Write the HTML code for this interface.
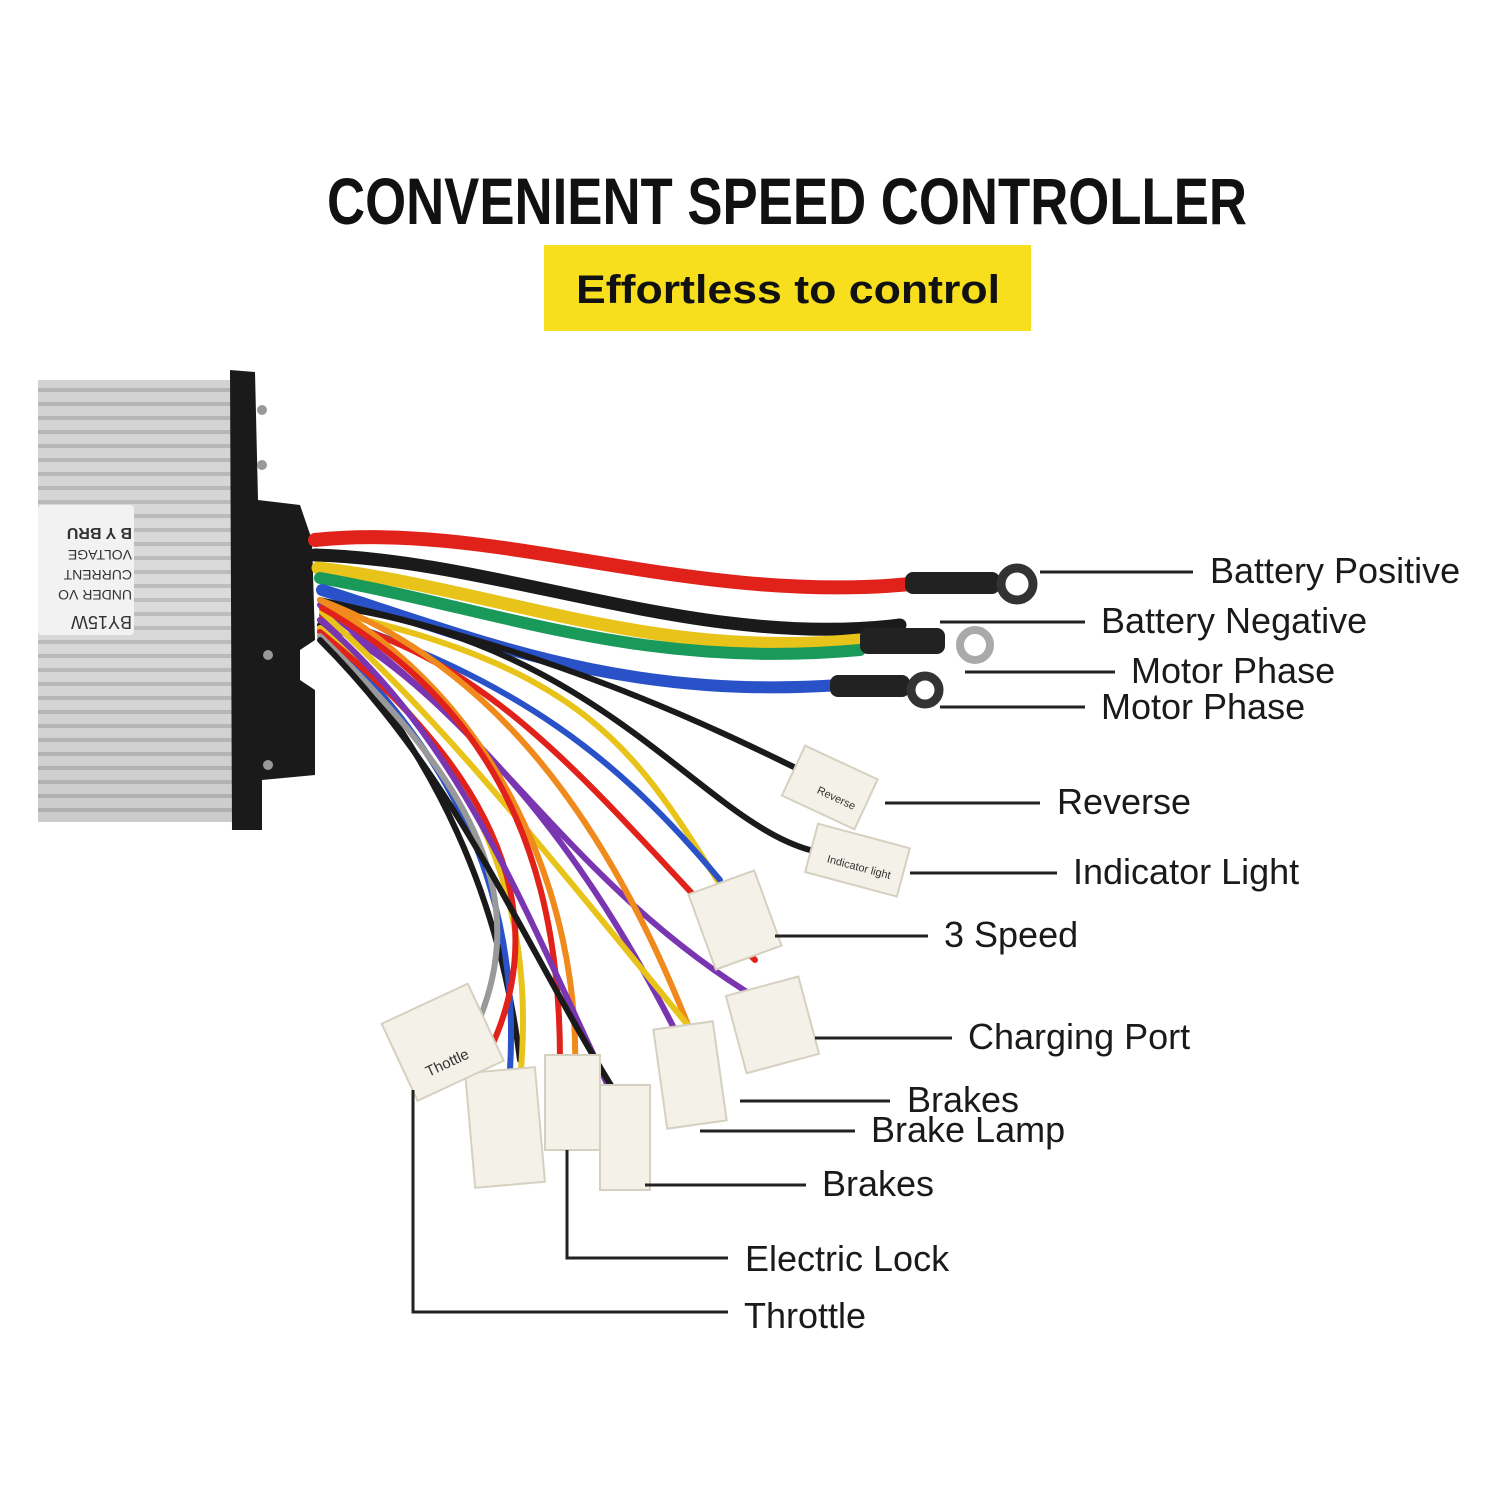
<!DOCTYPE html>
<html><head><meta charset="utf-8"><style>
html,body{margin:0;padding:0;background:#fff;}
svg{display:block;}
text{font-family:"Liberation Sans","Noto Sans CJK SC",sans-serif;}
</style></head><body>
<svg width="1500" height="1500" viewBox="0 0 1500 1500" xmlns="http://www.w3.org/2000/svg">
<defs>
<linearGradient id="alu" x1="0" y1="0" x2="0" y2="1">
<stop offset="0" stop-color="#c9c9c9"/><stop offset="0.5" stop-color="#e4e4e4"/><stop offset="1" stop-color="#b9b9b9"/>
</linearGradient>
<pattern id="fins" width="10" height="14" patternUnits="userSpaceOnUse">
<rect width="10" height="14" fill="#d6d6d6"/><rect y="10" width="10" height="4" fill="#a9a9a9"/>
</pattern>
</defs>
<rect width="1500" height="1500" fill="#fff"/>
<text x="787" y="224" text-anchor="middle" font-size="66" font-weight="bold" textLength="920" lengthAdjust="spacingAndGlyphs" fill="#111">CONVENIENT SPEED CONTROLLER</text>
<rect x="544" y="245" width="487" height="86" fill="#f7df1e"/>
<text x="788" y="303" text-anchor="middle" font-size="40" font-weight="bold" textLength="424" lengthAdjust="spacingAndGlyphs" fill="#111">Effortless to control</text>

<rect x="38" y="380" width="200" height="442" fill="url(#fins)"/>
<rect x="38" y="380" width="200" height="442" fill="url(#alu)" opacity="0.35"/>
<rect x="38" y="505" width="96" height="130" rx="4" fill="#f2f2f2"/>
<g transform="translate(86,570) rotate(180)" font-size="14" fill="#333">
<text x="-46" y="-46" font-size="18">BY15W</text>
<text x="-46" y="-20">UNDER VO</text>
<text x="-46" y="0">CURRENT</text>
<text x="-46" y="20">VOLTAGE</text>
<text x="-46" y="42" font-size="16" font-weight="bold">B Y BRU</text>
</g>
<path d="M230 370 L255 372 L258 500 L300 505 L312 540 L315 640 L300 650 L300 680 L315 690 L315 775 L262 780 L262 830 L232 830 Z" fill="#1a1a1a"/>
<circle cx="262" cy="410" r="5" fill="#999"/><circle cx="262" cy="465" r="5" fill="#999"/>
<circle cx="268" cy="655" r="5" fill="#999"/><circle cx="268" cy="765" r="5" fill="#999"/>

<g fill="none" stroke-linecap="round">
<path d="M315 540 C500 520 700 610 930 582" stroke="#e0221b" stroke-width="14"/>
<path d="M315 555 C500 560 700 650 900 625" stroke="#1a1a1a" stroke-width="13"/>
<path d="M318 568 C500 590 650 660 860 640" stroke="#e8c41a" stroke-width="13"/>
<path d="M320 578 C500 610 640 670 860 650" stroke="#1a9a5a" stroke-width="12"/>
<path d="M322 590 C480 640 620 700 840 685" stroke="#2a52c8" stroke-width="12"/>
</g>
<g fill="none" stroke-width="6" stroke-linecap="round">
<path d="M320 600 C550 650 700 720 820 780" stroke="#1a1a1a"/>
<path d="M322 605 C600 640 700 820 810 850" stroke="#1a1a1a"/>
<path d="M322 610 C600 670 640 760 730 900" stroke="#e8c41a"/>
<path d="M322 615 C520 680 620 760 720 880" stroke="#2a52c8"/>
<path d="M322 618 C500 660 600 800 755 960" stroke="#e0221b"/>
<path d="M320 620 C480 700 560 880 760 1000" stroke="#7a36b0"/>
<path d="M320 600 C480 660 600 800 690 1030" stroke="#f08a1c"/>
<path d="M320 605 C440 700 560 800 680 1040" stroke="#7a36b0"/>
<path d="M322 612 C440 720 520 820 700 1040" stroke="#e8c41a"/>
<path d="M320 625 C440 760 500 900 520 1060" stroke="#1a1a1a"/>
<path d="M320 630 C460 760 520 900 510 1070" stroke="#2a52c8"/>
<path d="M320 628 C460 740 540 880 520 1080" stroke="#e8c41a"/>
<path d="M320 632 C480 760 560 900 490 1050" stroke="#e0221b"/>
<path d="M320 636 C470 780 540 900 470 1040" stroke="#999"/>
<path d="M320 600 C500 700 580 900 575 1070" stroke="#f08a1c"/>
<path d="M322 608 C520 720 560 900 560 1060" stroke="#e0221b"/>
<path d="M320 620 C460 740 520 900 610 1090" stroke="#7a36b0"/>
<path d="M320 640 C460 780 520 940 620 1100" stroke="#1a1a1a"/>
</g>
<g fill="#222">
<rect x="905" y="572" width="95" height="22" rx="8"/>
<rect x="860" y="628" width="85" height="26" rx="8"/>
<rect x="830" y="675" width="80" height="22" rx="8"/>
</g>
<g fill="none" stroke="#333" stroke-width="9">
<circle cx="1017" cy="584" r="16"/>
<circle cx="925" cy="690" r="14"/>
</g>
<circle cx="975" cy="645" r="15" fill="none" stroke="#aaa" stroke-width="8"/>
<g fill="#f4f1e8" stroke="#d5d0c0" stroke-width="2">
<rect x="790" y="760" width="80" height="55" transform="rotate(25 830 787)"/>
<rect x="810" y="835" width="95" height="50" transform="rotate(15 857 860)"/>
<rect x="700" y="880" width="70" height="80" transform="rotate(-20 735 920)"/>
<rect x="735" y="985" width="75" height="80" transform="rotate(-15 772 1025)"/>
<rect x="660" y="1025" width="60" height="100" transform="rotate(-8 690 1075)"/>
<rect x="545" y="1055" width="55" height="95"/>
<rect x="600" y="1085" width="50" height="105"/>
<rect x="470" y="1070" width="70" height="115" transform="rotate(-5 505 1127)"/>
<rect x="395" y="1000" width="95" height="85" transform="rotate(-25 442 1042)"/>
</g>
<g font-size="11" fill="#333">
<text x="820" y="798" transform="rotate(25 830 787)">Reverse</text>
<text x="828" y="870" transform="rotate(15 857 860)">Indicator light</text>
<text x="415" y="1068" transform="rotate(-25 442 1042)" font-size="15">Thottle</text>
</g>

<g stroke="#222" stroke-width="3" fill="none">
<line x1="1040" y1="572" x2="1193" y2="572"/>
<line x1="940" y1="622" x2="1085" y2="622"/>
<line x1="965" y1="672" x2="1115" y2="672"/>
<line x1="940" y1="707" x2="1085" y2="707"/>
<line x1="885" y1="803" x2="1040" y2="803"/>
<line x1="910" y1="873" x2="1057" y2="873"/>
<line x1="775" y1="936" x2="928" y2="936"/>
<line x1="815" y1="1038" x2="952" y2="1038"/>
<line x1="740" y1="1101" x2="890" y2="1101"/>
<line x1="700" y1="1131" x2="855" y2="1131"/>
<line x1="645" y1="1185" x2="806" y2="1185"/>
<polyline points="567,1150 567,1258 728,1258"/>
<polyline points="413,1090 413,1312 728,1312"/>
</g>
<g font-size="36" fill="#1a1a1a">
<text x="1210" y="583">Battery Positive</text>
<text x="1101" y="633">Battery Negative</text>
<text x="1131" y="683">Motor Phase</text>
<text x="1101" y="719">Motor Phase</text>
<text x="1057" y="814">Reverse</text>
<text x="1073" y="884">Indicator Light</text>
<text x="944" y="947">3 Speed</text>
<text x="968" y="1049">Charging Port</text>
<text x="907" y="1112">Brakes</text>
<text x="871" y="1142">Brake Lamp</text>
<text x="822" y="1196">Brakes</text>
<text x="745" y="1271">Electric Lock</text>
<text x="744" y="1328">Throttle</text>
</g>
</svg>
</body></html>
